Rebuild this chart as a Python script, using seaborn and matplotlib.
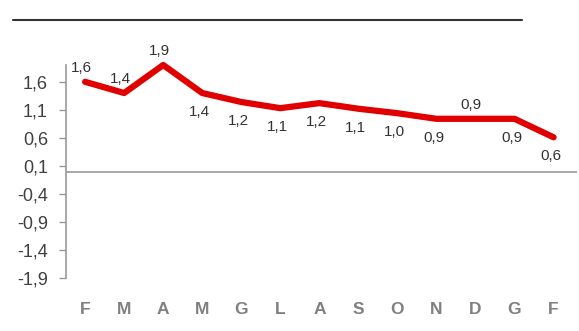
import matplotlib
matplotlib.use("Agg")
import matplotlib.pyplot as plt
import seaborn as sns
import pandas as pd
import numpy as np
from matplotlib.lines import Line2D
from matplotlib import font_manager

months = ["F", "M", "A", "M", "G", "L", "A", "S", "O", "N", "D", "G", "F"]
values = [1.6, 1.4, 1.9, 1.4, 1.24, 1.13, 1.22, 1.12, 1.04, 0.94, 0.94, 0.94, 0.61]
labels = ["1,6", "1,4", "1,9", "1,4", "1,2", "1,1", "1,2", "1,1", "1,0", "0,9", "0,9", "0,9", "0,6"]
label_above = [True, True, True, False, False, False, False, False, False, False, True, False, False]
yticks = [-1.9, -1.4, -0.9, -0.4, 0.1, 0.6, 1.1, 1.6]

sns.set_theme(style="white")
names = {f.name for f in font_manager.fontManager.ttflist}
narrow = "Liberation Sans Narrow" if "Liberation Sans Narrow" in names else "Liberation Sans"
plt.rcParams['font.family'] = [narrow, 'DejaVu Sans']

df = pd.DataFrame({"idx": np.arange(len(months)), "val": values})

fig = plt.figure(figsize=(5.79, 3.31), dpi=100)
ax = fig.add_axes([66/579, 1 - 278/331, (577-66)/579, (278-65)/331])

ax.axhline(0, color="#999999", lw=1.2, zorder=1)
sns.lineplot(data=df, x="idx", y="val", ax=ax, color="#e00000", lw=4.5, zorder=3, clip_on=False)

for i, (v, t, up) in enumerate(zip(values, labels, label_above)):
    if up:
        ax.annotate(t, (i, v), xytext=(-3, 5), textcoords="offset points", ha="center", va="bottom",
                    fontsize=11, color="#333333")
    else:
        ax.annotate(t, (i, v), xytext=(-2, -8.5), textcoords="offset points", ha="center", va="top",
                    fontsize=11, color="#333333")

ax.set_xlim(-0.49, 12.6)
ax.set_ylim(-1.9, 1.9)
ax.set_yticks(yticks)
ax.set_yticklabels([f"{t:.1f}".replace(".", ",") for t in yticks], fontsize=13, color="#404040")
ax.set_xticks(range(len(months)))
ax.set_xticklabels(months, fontsize=12.5, color="#808080", fontweight="bold")
ax.tick_params(axis="x", length=0, pad=17)
ax.tick_params(axis="y", length=5, width=1, color="#999999", left=True, pad=8)
ax.set_xlabel("")
ax.set_ylabel("")
for s in ["top", "right", "bottom"]:
    ax.spines[s].set_visible(False)
ax.spines["left"].set_color("#999999")
ax.spines["left"].set_linewidth(1.2)

fig.add_artist(Line2D([13/579, 522/579], [1 - 20/331, 1 - 20/331], color="#333333", lw=1.5))

fig.savefig("out.png", dpi=100, facecolor="white")
